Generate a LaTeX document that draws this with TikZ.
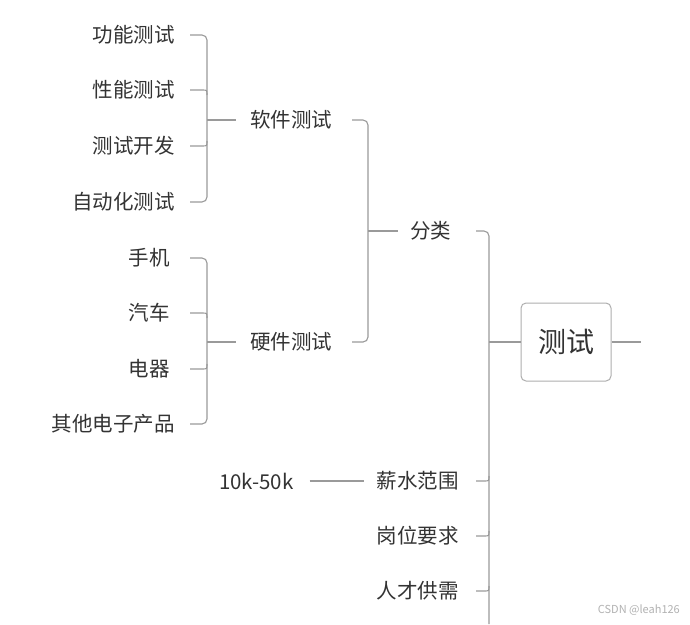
\documentclass[tikz,border=0pt]{standalone}
\usepackage{fontspec}
\setmainfont{Noto Sans CJK SC}
\usetikzlibrary{calc}
\definecolor{tx}{HTML}{333333}
\definecolor{ln}{HTML}{9A9A9A}
\begin{document}
\begin{tikzpicture}[x=1pt,y=-1pt,
  lbl/.style={font=\fontsize{20.5}{20.5}\selectfont,text=tx,inner sep=0pt},
  conn/.style={draw=ln,line width=1.1pt}]
\useasboundingbox (0,0) rectangle (690,624);
\fill[white] (0,0) rectangle (690,624);
% leaves
\node[lbl,anchor=east] (a1) at (175,35) {功能测试};
\node[lbl,anchor=east] (a2) at (175,90) {性能测试};
\node[lbl,anchor=east] (a3) at (175,146) {测试开发};
\node[lbl,anchor=east] (a4) at (175,202) {自动化测试};
\node[lbl,anchor=east] (b1) at (170,258) {手机};
\node[lbl,anchor=east] (b2) at (170,313) {汽车};
\node[lbl,anchor=east] (b3) at (170,369) {电器};
\node[lbl,anchor=east] (b4) at (175,424) {其他电子产品};
\node[lbl,anchor=west] (s) at (250,120) {软件测试};
\node[lbl,anchor=west] (h) at (250,342) {硬件测试};
\node[lbl,anchor=west] (f) at (410,231) {分类};
\node[lbl,anchor=east] (x1) at (459,481) {薪水范围};
\node[lbl,anchor=east] (x2) at (459,536) {岗位要求};
\node[lbl,anchor=east] (x3) at (459,591) {人才供需};
\node[lbl,anchor=west] (k) at (219,481) {10k-50k};
\node[draw=ln!80,line width=1pt,rounded corners=5pt,minimum width=90pt,minimum height=78pt,
      font=\fontsize{28}{28}\selectfont,text=tx] (t) at (566,342) {测试};
\node[font=\fontsize{11}{11}\selectfont,text=gray!60,anchor=east,inner sep=0pt] (w) at (680,610) {CSDN @leah126};
\coordinate (L1) at (190,0); \coordinate (V1) at (207,0);
\coordinate (L2) at (352,0); \coordinate (V2) at (368,0);
\coordinate (L3) at (476,0); \coordinate (V3) at (489,0);
\coordinate (bot) at (489,624);
% bracket software
\draw[conn,rounded corners=5pt] (a1 -| L1) -| (a4 -| V1) -- (a4 -| L1);
\draw[conn] (a2 -| L1) -- ($(a2 -| V1)+(-5,0)$) .. controls (a2 -| V1) .. ($(a2 -| V1)+(0,5)$);
\draw[conn] (a3 -| L1) -- ($(a3 -| V1)+(-5,0)$) .. controls (a3 -| V1) .. ($(a3 -| V1)+(0,-5)$);
\draw[conn] (s -| V1) -- ($(s.west)+(-14,0)$);
% bracket hardware
\draw[conn,rounded corners=5pt] (b1 -| L1) -| (b4 -| V1) -- (b4 -| L1);
\draw[conn] (b2 -| L1) -- ($(b2 -| V1)+(-5,0)$) .. controls (b2 -| V1) .. ($(b2 -| V1)+(0,5)$);
\draw[conn] (b3 -| L1) -- ($(b3 -| V1)+(-5,0)$) .. controls (b3 -| V1) .. ($(b3 -| V1)+(0,-5)$);
\draw[conn] (h -| V1) -- ($(h.west)+(-14,0)$);
% bracket classification
\draw[conn,rounded corners=5pt] (s -| L2) -| (h -| V2) -- (h -| L2);
\draw[conn] (f -| V2) -- ($(f.west)+(-12,0)$);
% main bracket
\draw[conn,rounded corners=5pt] (f -| L3) -| (bot);
\foreach \n in {x1,x2,x3}{
  \draw[conn] (\n -| L3) -- ($(\n -| V3)+(-5,0)$) .. controls (\n -| V3) .. ($(\n -| V3)+(0,-5)$);
}
\draw[conn] (t -| V3) -- (t.west);
\draw[conn] (t.east) -- ++(29,0);
\draw[conn] ($(k.east)+(16,0)$) -- ($(x1.west)+(-13,0)$);
\end{tikzpicture}
\end{document}
